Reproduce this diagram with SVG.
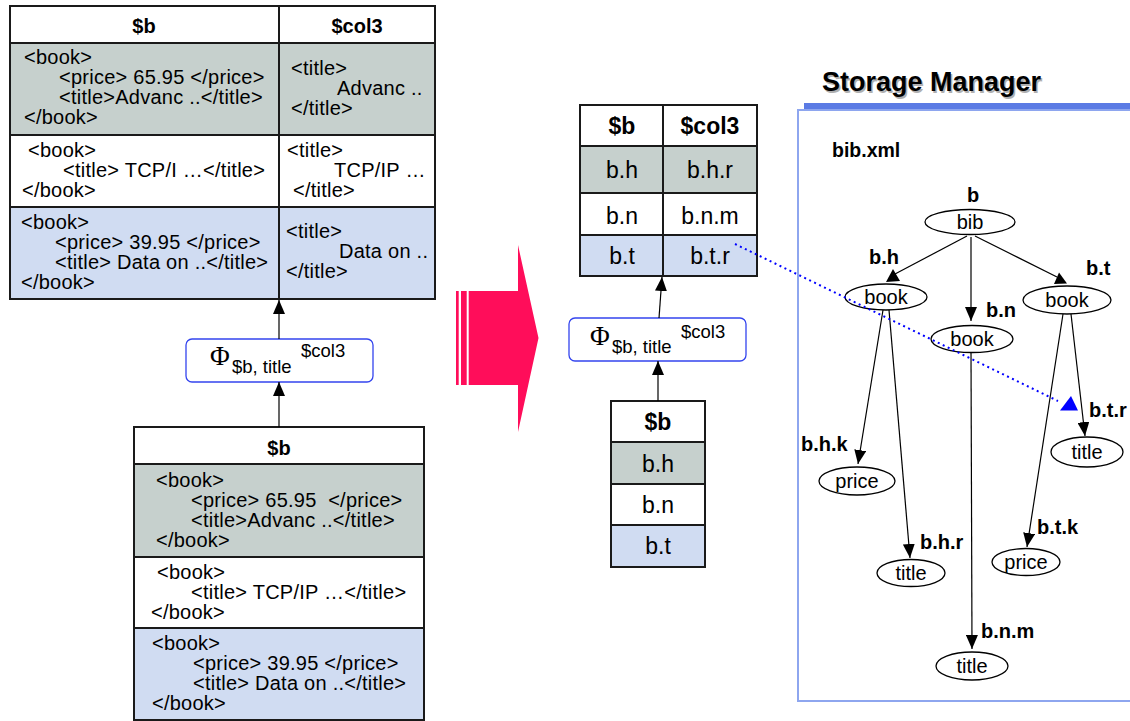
<svg xmlns="http://www.w3.org/2000/svg" width="1130" height="721" viewBox="0 0 1130 721">
<style>
.t{font-family:"Liberation Sans",Arial,sans-serif;font-size:20px;fill:#000}
.tt{font-family:"Liberation Sans",Arial,sans-serif;font-size:20px;letter-spacing:0.25px;fill:#000}
.b{font-family:"Liberation Sans",Arial,sans-serif;font-weight:bold;fill:#000}
.m{font-family:"Liberation Sans",Arial,sans-serif;font-size:23px;fill:#000}
.cell{stroke:#1a1a1a;stroke-width:2}
.gray{fill:#c6d0cd}
.blue{fill:#d0dcf2}
.white{fill:#fff}
.phi{fill:#fff;stroke:#3344ee;stroke-width:1.3}
.node{fill:#fff;stroke:#000;stroke-width:1.3}
.edge{stroke:#000;stroke-width:1.2;fill:none}
.sub{font-family:"Liberation Sans",Arial,sans-serif;font-size:18.5px;fill:#000}
.greek{font-family:"Liberation Serif","Times New Roman",serif;font-size:27px;fill:#000}
</style>
<defs>
<marker id="ah" markerUnits="userSpaceOnUse" markerWidth="14" markerHeight="12" refX="14" refY="6" orient="auto" viewBox="0 0 14 12">
<path d="M0,0 L14,6 L0,12 z" fill="#000"/>
</marker>
</defs>
<rect width="1130" height="721" fill="#fff"/>

<!-- Left top table -->
<g id="table-left-top">
<rect x="10" y="6" width="425" height="37" class="white cell"/>
<rect x="10" y="43" width="425" height="92" class="gray cell"/>
<rect x="10" y="135" width="425" height="72" class="white cell"/>
<rect x="10" y="207" width="425" height="92" class="blue cell"/>
<line x1="279" y1="6" x2="279" y2="299" class="cell"/>
<text x="144" y="33" class="b" font-size="20" text-anchor="middle">$b</text>
<text x="357" y="33" class="b" font-size="20" text-anchor="middle">$col3</text>
<text class="tt" x="24" y="64">&lt;book&gt;</text>
<text class="tt" x="59" y="84">&lt;price&gt; 65.95 &lt;/price&gt;</text>
<text class="tt" x="59" y="104">&lt;title&gt;Advanc ..&lt;/title&gt;</text>
<text class="tt" x="24" y="124">&lt;/book&gt;</text>
<text class="tt" x="28" y="157">&lt;book&gt;</text>
<text class="tt" x="63" y="177">&lt;title&gt; TCP/I …&lt;/title&gt;</text>
<text class="tt" x="22" y="197">&lt;/book&gt;</text>
<text class="tt" x="21" y="229">&lt;book&gt;</text>
<text class="tt" x="55" y="249">&lt;price&gt; 39.95 &lt;/price&gt;</text>
<text class="tt" x="55" y="269">&lt;title&gt; Data on ..&lt;/title&gt;</text>
<text class="tt" x="21" y="289">&lt;/book&gt;</text>
<text class="tt" x="291" y="75">&lt;title&gt;</text>
<text class="tt" x="337" y="95">Advanc ..</text>
<text class="tt" x="291" y="115">&lt;/title&gt;</text>
<text class="tt" x="287" y="157">&lt;title&gt;</text>
<text class="tt" x="334" y="177">TCP/IP …</text>
<text class="tt" x="293" y="197">&lt;/title&gt;</text>
<text class="tt" x="286" y="238">&lt;title&gt;</text>
<text class="tt" x="339" y="258">Data on ..</text>
<text class="tt" x="286" y="278">&lt;/title&gt;</text>
</g>

<!-- Left phi operator -->
<g id="phi-left">
<rect x="186" y="339" width="187" height="43" rx="6" class="phi"/>
<text class="greek" x="210" y="365">Φ</text>
<text class="sub" x="232" y="373">$b, title</text>
<text class="sub" x="301" y="357">$col3</text>
</g>

<!-- Left bottom table -->
<g id="table-left-bottom">
<rect x="134" y="427" width="290" height="37" class="white cell"/>
<rect x="134" y="464" width="290" height="93" class="gray cell"/>
<rect x="134" y="557" width="290" height="71" class="white cell"/>
<rect x="134" y="628" width="290" height="92" class="blue cell"/>
<text x="279" y="455" class="b" font-size="20" text-anchor="middle">$b</text>
<text class="tt" x="156" y="487">&lt;book&gt;</text>
<text class="tt" x="191" y="507">&lt;price&gt; 65.95 &#160;&lt;/price&gt;</text>
<text class="tt" x="191" y="527">&lt;title&gt;Advanc ..&lt;/title&gt;</text>
<text class="tt" x="156" y="547">&lt;/book&gt;</text>
<text class="tt" x="157" y="579">&lt;book&gt;</text>
<text class="tt" x="191" y="599">&lt;title&gt; TCP/IP …&lt;/title&gt;</text>
<text class="tt" x="151" y="619">&lt;/book&gt;</text>
<text class="tt" x="152" y="650">&lt;book&gt;</text>
<text class="tt" x="193" y="670">&lt;price&gt; 39.95 &lt;/price&gt;</text>
<text class="tt" x="193" y="690">&lt;title&gt; Data on ..&lt;/title&gt;</text>
<text class="tt" x="152" y="710">&lt;/book&gt;</text>
</g>

<!-- Big pink arrow -->
<g id="big-arrow" fill="#ff0d5a">
<rect x="456" y="291" width="2.7" height="94"/>
<rect x="461" y="291" width="5.7" height="94"/>
<polygon points="468.7,291 518,291 518,245 538.5,338 518,432 518,385 468.7,385"/>
</g>

<!-- Middle top table -->
<g id="table-mid-top">
<rect x="580" y="105" width="177" height="41" class="white cell"/>
<rect x="580" y="146" width="177" height="47" class="gray cell"/>
<rect x="580" y="193" width="177" height="42" class="white cell"/>
<rect x="580" y="235" width="177" height="41" class="blue cell"/>
<line x1="663" y1="105" x2="663" y2="276" class="cell"/>
<text x="622" y="134" class="b" font-size="23" text-anchor="middle">$b</text>
<text x="710" y="134" class="b" font-size="23" text-anchor="middle">$col3</text>
<text x="622" y="178" class="m" text-anchor="middle">b.h</text>
<text x="710" y="178" class="m" text-anchor="middle">b.h.r</text>
<text x="622" y="224" class="m" text-anchor="middle">b.n</text>
<text x="710" y="224" class="m" text-anchor="middle">b.n.m</text>
<text x="622" y="264" class="m" text-anchor="middle">b.t</text>
<text x="710" y="264" class="m" text-anchor="middle">b.t.r</text>
</g>

<!-- Middle phi operator -->
<g id="phi-mid">
<rect x="569" y="318" width="177" height="43" rx="6" class="phi"/>
<text class="greek" x="590" y="345">Φ</text>
<text class="sub" x="612" y="353">$b, title</text>
<text class="sub" x="681" y="338">$col3</text>
</g>

<!-- Middle bottom table -->
<g id="table-mid-bottom">
<rect x="611" y="401" width="94" height="41" class="white cell"/>
<rect x="611" y="442" width="94" height="42" class="gray cell"/>
<rect x="611" y="484" width="94" height="41" class="white cell"/>
<rect x="611" y="525" width="94" height="42" class="blue cell"/>
<text x="658" y="430" class="b" font-size="23" text-anchor="middle">$b</text>
<text x="658" y="472" class="m" text-anchor="middle">b.h</text>
<text x="658" y="513" class="m" text-anchor="middle">b.n</text>
<text x="658" y="554" class="m" text-anchor="middle">b.t</text>
</g>

<!-- Storage Manager panel -->
<g id="storage-manager">
<text x="823.5" y="92.5" class="b" font-size="27" style="fill:#b0b0b0">Storage Manager</text>
<text x="822" y="91" class="b" font-size="27">Storage Manager</text>
<rect x="804" y="103" width="330" height="6.5" fill="#5b7be4"/>
<rect x="798" y="110" width="340" height="591" fill="none" stroke="#8ea6ef" stroke-width="2"/>
<text x="832" y="157" class="b" font-size="19.5">bib.xml</text>
</g>

<!-- Tree nodes -->
<g id="n-bib"><ellipse cx="970" cy="222" rx="45" ry="12.5" class="node"/><text x="970" y="229" class="t" text-anchor="middle">bib</text><text x="973" y="202" class="b" font-size="20" text-anchor="middle">b</text></g>
<g id="n-book-h"><ellipse cx="886" cy="297" rx="41" ry="13" class="node"/><text x="886" y="304" class="t" text-anchor="middle">book</text><text x="869" y="264" class="b" font-size="20">b.h</text></g>
<g id="n-book-n"><ellipse cx="972" cy="339" rx="41" ry="13.5" class="node"/><text x="972" y="346" class="t" text-anchor="middle">book</text><text x="986" y="317" class="b" font-size="20">b.n</text></g>
<g id="n-book-t"><ellipse cx="1067" cy="300" rx="44" ry="14" class="node"/><text x="1067" y="307" class="t" text-anchor="middle">book</text><text x="1086" y="275" class="b" font-size="20">b.t</text></g>
<g id="n-price-hk"><ellipse cx="857" cy="481" rx="38" ry="14" class="node"/><text x="857" y="488" class="t" text-anchor="middle">price</text><text x="801" y="451" class="b" font-size="20">b.h.k</text></g>
<g id="n-title-hr"><ellipse cx="911" cy="573" rx="34" ry="13.5" class="node"/><text x="911" y="580" class="t" text-anchor="middle">title</text><text x="920" y="549" class="b" font-size="20">b.h.r</text></g>
<g id="n-title-nm"><ellipse cx="972" cy="666" rx="36" ry="14" class="node"/><text x="972" y="673" class="t" text-anchor="middle">title</text><text x="981" y="638" class="b" font-size="20">b.n.m</text></g>
<g id="n-price-tk"><ellipse cx="1026" cy="562" rx="34" ry="13.5" class="node"/><text x="1026" y="569" class="t" text-anchor="middle">price</text><text x="1037" y="534" class="b" font-size="20">b.t.k</text></g>
<g id="n-title-tr"><ellipse cx="1087" cy="452" rx="36" ry="15" class="node"/><text x="1087" y="459" class="t" text-anchor="middle">title</text><text x="1089" y="417" class="b" font-size="20">b.t.r</text></g>

<!-- Connectors -->
<g id="connectors">
<line x1="279" y1="339" x2="279" y2="300" class="edge" marker-end="url(#ah)"/>
<line x1="279" y1="427" x2="279" y2="382" class="edge" marker-end="url(#ah)"/>
<line x1="659" y1="318" x2="662" y2="277" class="edge" marker-end="url(#ah)"/>
<line x1="658" y1="401" x2="658" y2="361" class="edge" marker-end="url(#ah)"/>
<line x1="967" y1="236" x2="895" y2="274" class="edge"/>
<polygon points="893,269 886,282 900,281" fill="#000"/>
<line x1="975" y1="236" x2="1057" y2="277" class="edge"/>
<polygon points="1059,272.5 1054,284 1067,283.5" fill="#000"/>
<line x1="971" y1="237" x2="971" y2="321" class="edge" marker-end="url(#ah)"/>
<line x1="883" y1="310" x2="858" y2="464" class="edge" marker-end="url(#ah)"/>
<line x1="889" y1="310" x2="910" y2="558" class="edge" marker-end="url(#ah)"/>
<line x1="971" y1="352" x2="972" y2="649" class="edge" marker-end="url(#ah)"/>
<line x1="1063" y1="314" x2="1027" y2="547" class="edge" marker-end="url(#ah)"/>
<line x1="1071" y1="314" x2="1085" y2="436" class="edge" marker-end="url(#ah)"/>
<line x1="735" y1="244" x2="1058" y2="401" stroke="#0000ff" stroke-width="2" stroke-dasharray="2 3.5"/>
<polygon points="1071,396 1060,410.5 1078,410.5" fill="#0000ff"/>
</g>
</svg>
